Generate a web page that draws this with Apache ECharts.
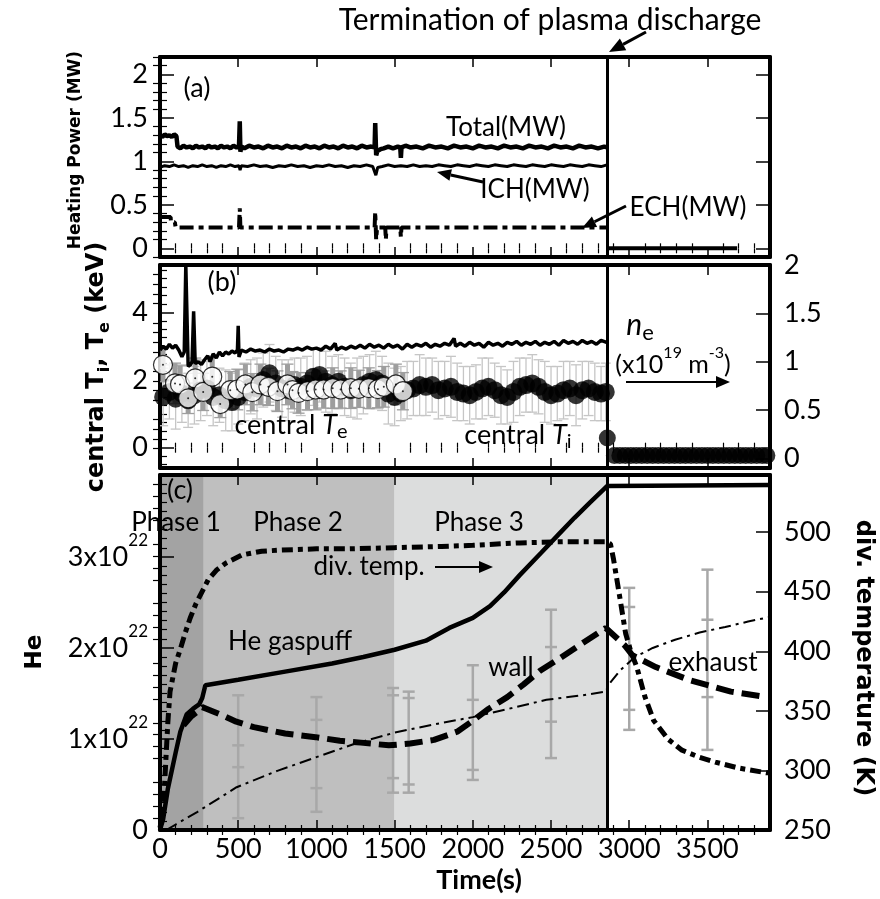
<!DOCTYPE html>
<html>
<head>
<meta charset="utf-8">
<script src="https://cdn.jsdelivr.net/npm/echarts@6/dist/echarts.min.js"></script>
<style>
html,body{margin:0;padding:0;background:#fff;}
#chart{width:880px;height:899px;}
</style>
</head>
<body>
<div id="chart"></div>
<script>
// ================= DATA =================
const dischargeEnd = 2860;
const xTickLabels = [0, 500, 1000, 1500, 2000, 2500, 3000, 3500];
const powerTickLabels = [0, 0.5, 1, 1.5, 2];
const tempTickLabels = [0, 2, 4];
const neTickLabels = [0, 0.5, 1, 1.5, 2];
const heTickLabels = [0, 1, 2, 3];
const divTickLabels = [250, 300, 350, 400, 450, 500];

// (a) heating power (MW)
const totalPower = [[0,1.3],[15,1.28],[30,1.31],[45,1.29],[60,1.3],[75,1.28],[90,1.31],[105,1.29],[112,1.17],[130,1.15],[150,1.18],[170,1.16],[190,1.17],[210,1.15],[230,1.18],[250,1.16],[270,1.17],[290,1.15],[310,1.18],[330,1.16],[350,1.17],[370,1.15],[390,1.18],[410,1.16],[430,1.17],[450,1.15],[470,1.18],[490,1.16],[505,1.17],[510,1.46],[514,1.11],[520,1.17],[540,1.15],[570,1.18],[600,1.16],[630,1.17],[660,1.15],[690,1.18],[720,1.16],[750,1.17],[780,1.15],[810,1.18],[840,1.16],[870,1.17],[900,1.15],[930,1.18],[960,1.16],[990,1.17],[1020,1.15],[1050,1.18],[1080,1.16],[1110,1.17],[1140,1.15],[1170,1.18],[1200,1.16],[1230,1.17],[1260,1.15],[1290,1.18],[1320,1.16],[1350,1.17],[1372,1.16],[1376,1.44],[1382,1.07],[1390,1.12],[1410,1.14],[1430,1.15],[1460,1.17],[1490,1.15],[1520,1.17],[1536,1.16],[1540,1.04],[1544,1.16],[1570,1.18],[1600,1.16],[1640,1.17],[1680,1.15],[1720,1.18],[1760,1.16],[1800,1.17],[1840,1.15],[1880,1.18],[1920,1.16],[1960,1.17],[2000,1.15],[2040,1.18],[2080,1.16],[2120,1.17],[2160,1.15],[2200,1.18],[2240,1.16],[2280,1.17],[2320,1.15],[2360,1.18],[2400,1.16],[2440,1.17],[2480,1.15],[2520,1.18],[2560,1.16],[2600,1.17],[2640,1.15],[2680,1.18],[2720,1.16],[2760,1.17],[2800,1.15],[2840,1.17],[2858,1.16]];
const ichPower = [[0,0.93],[30,0.95],[60,0.94],[90,0.96],[120,0.94],[150,0.95],[180,0.93],[210,0.95],[240,0.94],[270,0.96],[300,0.94],[330,0.95],[360,0.93],[390,0.95],[420,0.94],[450,0.96],[480,0.94],[505,0.95],[512,0.9],[520,0.95],[560,0.94],[600,0.96],[640,0.94],[680,0.95],[720,0.93],[760,0.95],[800,0.94],[840,0.96],[880,0.94],[920,0.95],[960,0.93],[1000,0.95],[1040,0.94],[1080,0.96],[1120,0.94],[1160,0.95],[1200,0.93],[1240,0.95],[1280,0.94],[1320,0.96],[1360,0.94],[1372,0.95],[1380,0.84],[1392,0.93],[1420,0.94],[1460,0.96],[1500,0.94],[1540,0.95],[1580,0.94],[1620,0.96],[1660,0.94],[1700,0.95],[1740,0.94],[1780,0.96],[1820,0.95],[1860,0.94],[1900,0.96],[1940,0.95],[1980,0.94],[2020,0.96],[2060,0.95],[2100,0.94],[2140,0.96],[2180,0.95],[2220,0.94],[2260,0.96],[2300,0.95],[2340,0.94],[2380,0.96],[2420,0.95],[2460,0.94],[2500,0.96],[2540,0.95],[2580,0.94],[2620,0.96],[2660,0.95],[2700,0.94],[2740,0.96],[2780,0.95],[2820,0.94],[2858,0.96]];
const echPower = [[0,0.36],[68,0.36],[70,0.3],[95,0.3],[100,0.24],[505,0.24],[510,0.46],[514,0.24],[1372,0.24],[1376,0.42],[1382,0.1],[1388,0.24],[1440,0.24],[1444,0.1],[1448,0.24],[1536,0.24],[1540,0.13],[1544,0.24],[2858,0.24]];
const powerAfter = [[2862,0],[3690,0]];

// (b) ne (x1e19 m^-3, right axis)
const neLine = [[0,1.12],[20,1.16],[40,1.13],[60,1.18],[80,1.14],[100,1.17],[120,1.12],[140,1.05],[155,1.1],[165,2.0],[172,2.0],[180,0.95],[195,0.97],[205,1.0],[215,1.52],[225,0.98],[245,1.0],[265,0.97],[285,1.02],[305,1.06],[320,1.0],[340,1.08],[360,1.04],[380,1.1],[400,1.06],[420,1.1],[440,1.08],[460,1.11],[480,1.09],[495,1.12],[500,1.37],[505,1.05],[520,1.12],[550,1.1],[580,1.13],[610,1.11],[640,1.12],[670,1.1],[700,1.13],[730,1.11],[760,1.12],[790,1.1],[820,1.13],[850,1.12],[880,1.14],[910,1.12],[940,1.15],[970,1.13],[1000,1.14],[1030,1.12],[1060,1.16],[1090,1.13],[1120,1.19],[1130,1.12],[1160,1.15],[1190,1.13],[1220,1.16],[1250,1.14],[1280,1.17],[1310,1.14],[1340,1.18],[1370,1.15],[1400,1.17],[1430,1.14],[1460,1.18],[1490,1.15],[1520,1.17],[1550,1.13],[1580,1.18],[1610,1.15],[1640,1.18],[1670,1.16],[1700,1.19],[1730,1.15],[1760,1.18],[1790,1.16],[1820,1.19],[1850,1.17],[1880,1.24],[1890,1.16],[1920,1.19],[1950,1.16],[1980,1.2],[2010,1.17],[2040,1.19],[2070,1.15],[2100,1.2],[2130,1.17],[2160,1.19],[2190,1.16],[2220,1.2],[2250,1.18],[2280,1.21],[2310,1.17],[2340,1.2],[2370,1.18],[2400,1.21],[2430,1.17],[2460,1.2],[2490,1.18],[2520,1.21],[2550,1.17],[2580,1.22],[2610,1.19],[2640,1.21],[2670,1.18],[2700,1.22],[2730,1.19],[2760,1.21],[2790,1.18],[2820,1.22],[2855,1.2]];
const neAfter = [[2860,0.21],[2905,0.03],[2940,0.03],[2975,0.03],[3010,0.03],[3045,0.03],[3080,0.03],[3115,0.03],[3150,0.03],[3185,0.03],[3220,0.03],[3255,0.03],[3290,0.03],[3325,0.03],[3360,0.03],[3395,0.03],[3430,0.03],[3465,0.03],[3500,0.03],[3535,0.03],[3570,0.03],[3605,0.03],[3640,0.03],[3675,0.03],[3710,0.03],[3745,0.03],[3780,0.03],[3815,0.03],[3850,0.03],[3880,0.03]];

// (b) central Ti (keV) with error half-widths
const tiData = [[20,1.5],[60,1.65],[100,1.45],[140,1.6],[180,1.4],[220,1.55],[260,1.7],[300,1.75],[340,1.5],[380,1.55],[420,1.4],[460,1.35],[500,1.5],[540,1.65],[580,1.8],[620,1.75],[660,2.0],[700,2.2],[740,1.9],[780,1.75],[820,1.7],[860,1.85],[900,1.8],[940,1.9],[980,2.1],[1020,2.15],[1060,1.95],[1100,1.85],[1140,1.95],[1180,1.8],[1220,1.7],[1260,1.75],[1300,1.85],[1340,1.95],[1380,2.0],[1420,1.9],[1460,1.6],[1500,1.5],[1540,1.6],[1580,1.7],[1620,1.75],[1660,1.85],[1700,1.8],[1740,1.85],[1780,1.7],[1820,1.75],[1860,1.8],[1900,1.65],[1940,1.6],[1980,1.55],[2020,1.65],[2060,1.75],[2100,1.8],[2140,1.7],[2180,1.55],[2220,1.5],[2260,1.65],[2300,1.8],[2340,1.85],[2380,1.9],[2420,1.8],[2460,1.65],[2500,1.55],[2540,1.6],[2580,1.7],[2620,1.75],[2660,1.55],[2700,1.7],[2740,1.75],[2780,1.65],[2820,1.6],[2850,1.65]];
const tiErr = [0.85,0.8,0.9,0.85,0.8,0.85,0.9,0.8,0.85,0.8,0.9,0.85,0.8,0.85,0.8,0.9,0.8,0.85,0.8,0.85,0.9,0.8,0.85,0.8,0.85,0.8,0.9,0.85,0.8,0.85,0.8,0.9,0.85,0.8,0.85,0.8,0.9,0.85,0.8,0.85,0.8,0.9,0.85,0.8,0.85,0.8,0.9,0.85,0.8,0.85,0.8,0.9,0.85,0.8,0.85,0.8,0.9,0.85,0.8,0.85,0.8,0.9,0.85,0.8,0.85,0.8,0.9,0.85,0.8,0.85,0.8,0.85];

// (b) central Te (keV) with error half-widths
const teData = [[19,2.45],[96,1.9],[128,1.87],[180,1.46],[225,2.05],[276,1.65],[334,2.1],[385,1.29],[449,1.7],[494,1.72],[546,1.87],[590,1.64],[642,1.87],[693,1.8],[751,1.67],[815,1.87],[847,1.7],[886,1.62],[943,1.67],[995,1.72],[1046,1.72],[1104,1.76],[1155,1.72],[1220,1.76],[1271,1.74],[1335,1.76],[1393,1.73],[1431,1.8],[1508,1.87],[1553,1.67]];
const teErr = [0.5,0.6,0.55,0.45,0.6,0.55,0.6,0.4,0.55,0.6,0.6,0.55,0.6,0.55,0.6,0.6,0.55,0.6,0.55,0.6,0.55,0.6,0.55,0.6,0.55,0.6,0.55,0.6,0.6,0.55];

// (c) He inventory (x1e22) and divertor temperature (K)
const gasPuff = [[0,0],[20,0.12],[50,0.45],[100,0.85],[130,1.08],[170,1.27],[210,1.33],[250,1.38],[270,1.45],[290,1.59],[500,1.65],[800,1.74],[1100,1.83],[1300,1.9],[1500,1.98],[1700,2.08],[1850,2.22],[2000,2.33],[2110,2.46],[2200,2.61],[2300,2.8],[2434,3.04],[2550,3.25],[2650,3.43],[2750,3.6],[2860,3.78],[2870,3.79],[3900,3.79]];
const wallHe = [[150,1.15],[200,1.25],[240,1.3],[270,1.35],[300,1.33],[400,1.26],[488,1.19],[600,1.13],[800,1.06],[995,1.02],[1150,0.98],[1284,0.96],[1463,0.93],[1600,0.95],[1752,0.99],[1900,1.08],[1983,1.18],[2100,1.33],[2220,1.46],[2325,1.6],[2430,1.75],[2541,1.87],[2700,2.05],[2850,2.22],[2970,2.03],[3020,1.92],[3170,1.79],[3380,1.65],[3650,1.52],[3880,1.46]];
const exhaustHe = [[40,0.0],[100,0.06],[240,0.2],[490,0.47],[750,0.65],[1000,0.8],[1250,0.95],[1500,1.07],[1750,1.16],[2000,1.24],[2250,1.34],[2470,1.43],[2700,1.48],[2850,1.52],[2870,1.6],[2940,1.75],[3036,1.9],[3150,2.0],[3293,2.09],[3450,2.17],[3614,2.23],[3760,2.29],[3900,2.34]];
const divTemp = [[0,252],[15,262],[30,290],[50,340],[64,366],[100,390],[128,401],[160,415],[193,428],[230,440],[257,447],[308,460],[360,468],[420,474],[526,481],[650,484],[776,485],[1000,486],[1200,486],[1497,487],[1800,488],[2000,489],[2300,491],[2580,492],[2850,492],[2880,490],[2900,477],[2940,445],[2977,415],[3010,400],[3048,387],[3100,362],[3156,342],[3250,326],[3337,317],[3450,311],[3550,307],[3700,302],[3877,298],[3900,298]];
const phaseRanges = [[0,280],[280,1500],[1500,2860]];
const phaseNames = ['Phase 1','Phase 2','Phase 3'];
const errTimes = [500,1000,1490,1590,2000,2500,3000,3500];
const errMarks = [[1.48,0.93,0.69,0.13],[1.46,1.21,0.46,0.2],[1.56,1.48,0.57,0.41],[1.52,1.45,0.5,0.41],[1.81,1.43,0.66,0.55],[2.42,2.01,1.19,0.79],[2.66,2.45,1.32,1.1],[2.86,2.31,1.46,0.88]];

// ================= LAYOUT / STYLE =================
const FONT = 'Lato';
const BOLD = 'DejaVu Sans';
const grids = [
  {left:160, right:110, top:57, height:200},
  {left:160, right:110, top:265, height:203},
  {left:160, right:110, top:475, height:355}
];
function steps(a, b, s, skip) {
  const out = [];
  const n = Math.round((b - a) / s);
  for (let i = 0; i <= n; i++) {
    const v = +(a + i * s).toFixed(4);
    if (!skip.some(k => Math.abs(k - v) < 1e-9)) out.push(v);
  }
  return out;
}
const xMinor = steps(0, 3800, 100, xTickLabels);

function xAxesFor(g, showLabels) {
  const base = {type:'value', gridIndex:g, min:0, max:3900, splitLine:{show:false}};
  const line = {show:true, onZero:false, lineStyle:{color:'#000', width:4}};
  const lbl = showLabels ? {show:true, customValues:xTickLabels, formatter: v => String(v), color:'#000', fontFamily:FONT, fontSize:27, margin:6} : {show:false};
  return [
    Object.assign({}, base, {position:'bottom', axisLine:line, axisTick:{show:true, inside:true, length:10, customValues:xTickLabels, lineStyle:{color:'#000', width:1.5}}, axisLabel:lbl}),
    Object.assign({}, base, {position:'bottom', axisLine:{show:false}, axisTick:{show:true, inside:true, length:5, customValues:xMinor, lineStyle:{color:'#000', width:1.2}}, axisLabel:{show:false}}),
    Object.assign({}, base, {position:'top', axisLine:line, axisTick:{show:true, inside:true, length:10, customValues:xTickLabels, lineStyle:{color:'#000', width:1.5}}, axisLabel:{show:false}}),
    Object.assign({}, base, {position:'top', axisLine:{show:false}, axisTick:{show:true, inside:true, length:5, customValues:xMinor, lineStyle:{color:'#000', width:1.2}}, axisLabel:{show:false}})
  ];
}
function yAxesFor(g, pos, min, max, labels, minor, label) {
  const base = {type:'value', gridIndex:g, position:pos, min:min, max:max, splitLine:{show:false}};
  return [
    Object.assign({}, base, {axisLine:{show:true, onZero:false, lineStyle:{color:'#000', width:4}},
      axisTick:{show:true, inside:true, length:14, customValues:labels, lineStyle:{color:'#000', width:1.5}},
      axisLabel: label ? Object.assign({show:true, customValues:labels, formatter: v => String(v), color:'#000', fontFamily:FONT, fontSize:27, margin:12}, label) : {show:false}}),
    Object.assign({}, base, {axisLine:{show:false}, axisTick:{show:true, inside:true, length:7, customValues:minor, lineStyle:{color:'#000', width:1.2}}, axisLabel:{show:false}})
  ];
}
const xAxis = [].concat(xAxesFor(0,false), xAxesFor(1,false), xAxesFor(2,true));
const yAxis = [].concat(
  yAxesFor(0,'left',-0.1,2.2,powerTickLabels, steps(-0.1,2.2,0.1,powerTickLabels), {}),
  yAxesFor(0,'right',-0.1,2.2,powerTickLabels, steps(-0.1,2.2,0.1,powerTickLabels), null),
  yAxesFor(1,'left',-0.6,5.4,tempTickLabels, steps(-0.5,5.25,0.25,tempTickLabels), {}),
  yAxesFor(1,'right',-0.1,2,neTickLabels, steps(0,2,0.1,neTickLabels), {margin:14}),
  yAxesFor(2,'left',0,3.9,heTickLabels, steps(0,3.9,0.1,heTickLabels), {
    formatter: v => v === 0 ? '{b|0}' : '{b|' + v + 'x10}{s|22}',
    rich:{b:{fontFamily:FONT, fontSize:27, lineHeight:50, color:'#000'}, s:{fontFamily:FONT, fontSize:17, lineHeight:17, verticalAlign:'top', color:'#000'}}
  }),
  yAxesFor(2,'right',250,548,divTickLabels, steps(250,540,10,divTickLabels), {margin:14})
);
// yAxis indices: g0 left 0, right 2; g1 left 4, right 6; g2 left 8, right 10

function errBarRender(color, width, cap) {
  return function (params, api) {
    const x = api.value(0);
    const lo = api.coord([x, api.value(1)]);
    const hi = api.coord([x, api.value(2)]);
    const st = {stroke:color, lineWidth:width};
    const cs = {stroke:color, lineWidth:1.3};
    return {type:'group', children:[
      {type:'line', shape:{x1:lo[0], y1:lo[1], x2:hi[0], y2:hi[1]}, style:st},
      {type:'line', shape:{x1:lo[0]-cap, y1:lo[1], x2:lo[0]+cap, y2:lo[1]}, style:cs},
      {type:'line', shape:{x1:hi[0]-cap, y1:hi[1], x2:hi[0]+cap, y2:hi[1]}, style:cs}
    ]};
  };
}
const vline = {symbol:'none', silent:true, label:{show:false}, lineStyle:{color:'#000', width:3, type:'solid'}, data:[{xAxis:dischargeEnd}]};
const phaseColors = ['#a3a3a3','#bfbfbf','#dcdddd'];

const series = [
  // ---- (a)
  {type:'line', name:'Total', xAxisIndex:0, yAxisIndex:0, data:totalPower, showSymbol:false, lineStyle:{color:'#000', width:4.5}, z:5, markLine:vline},
  {type:'line', name:'ICH', xAxisIndex:0, yAxisIndex:0, data:ichPower, showSymbol:false, lineStyle:{color:'#000', width:3}, z:5},
  {type:'line', name:'ECH', xAxisIndex:0, yAxisIndex:0, data:echPower, showSymbol:false, lineStyle:{color:'#000', width:4, type:[14,5,5,5]}, z:5},
  {type:'line', name:'after', xAxisIndex:0, yAxisIndex:0, data:powerAfter, showSymbol:false, lineStyle:{color:'#000', width:4}, z:5},
  // ---- (b)
  {type:'custom', name:'Ti err', xAxisIndex:4, yAxisIndex:4, clip:true, z:2,
    renderItem: errBarRender('#c6c6c6', 1.3, 5),
    data: tiData.map((d,i) => [d[0], d[1]-tiErr[i], d[1]+tiErr[i]])},
  {type:'custom', name:'Te err', xAxisIndex:4, yAxisIndex:4, clip:true, z:3,
    renderItem: errBarRender('#9e9e9e', 5, 6),
    data: teData.map((d,i) => [d[0], d[1]-teErr[i], d[1]+teErr[i]])},
  {type:'scatter', name:'Ti', xAxisIndex:4, yAxisIndex:4, data:tiData, symbol:'circle', symbolSize:18, itemStyle:{color:'#000'}, z:4},
  {type:'scatter', name:'Te', xAxisIndex:4, yAxisIndex:4, data:teData, symbol:'circle', symbolSize:19, itemStyle:{color:'#fff', borderColor:'#000', borderWidth:1.2}, z:5},
  {type:'scatter', name:'Te dot', xAxisIndex:4, yAxisIndex:4, data:teData, symbol:'circle', symbolSize:2, itemStyle:{color:'#000'}, z:6},
  {type:'line', name:'ne', xAxisIndex:4, yAxisIndex:6, data:neLine, showSymbol:false, lineStyle:{color:'#000', width:3.5}, z:7, markLine:vline},
  {type:'scatter', name:'ne after', xAxisIndex:4, yAxisIndex:6, data:neAfter, symbol:'circle', symbolSize:17, itemStyle:{color:'#000'}, z:7},
  // ---- (c)
  {type:'custom', name:'phases', xAxisIndex:8, yAxisIndex:8, z:0, silent:true,
    renderItem: function (params, api) {
      const p0 = api.coord([api.value(0), 3.9]);
      const p1 = api.coord([api.value(1), 0]);
      return {type:'rect', shape:{x:p0[0], y:p0[1], width:p1[0]-p0[0], height:p1[1]-p0[1]}, style:{fill:phaseColors[params.dataIndex]}};
    },
    data: phaseRanges},
  {type:'custom', name:'err c', xAxisIndex:8, yAxisIndex:8, z:2,
    renderItem: function (params, api) {
      const x = api.value(0);
      const pts = [1,2,3,4].map(k => api.coord([x, api.value(k)]));
      const ys = pts.map(p => p[1]);
      const st = {stroke:'#a8a8a8', lineWidth:2.5};
      const ch = [{type:'line', shape:{x1:pts[0][0], y1:Math.min.apply(null,ys), x2:pts[0][0], y2:Math.max.apply(null,ys)}, style:st}];
      pts.forEach(p => ch.push({type:'line', shape:{x1:p[0]-6, y1:p[1], x2:p[0]+6, y2:p[1]}, style:st}));
      return {type:'group', children:ch};
    },
    data: errTimes.map((t,i) => [t].concat(errMarks[i]))},
  {type:'line', name:'exhaust', xAxisIndex:8, yAxisIndex:8, data:exhaustHe, showSymbol:false, lineStyle:{color:'#000', width:2, type:[12,5,3,5]}, z:4},
  {type:'line', name:'wall', xAxisIndex:8, yAxisIndex:8, data:wallHe, showSymbol:false, lineStyle:{color:'#000', width:6, type:[18,8]}, z:5},
  {type:'line', name:'div temp', xAxisIndex:8, yAxisIndex:10, data:divTemp, showSymbol:false, lineStyle:{color:'#000', width:5, type:[11,5,5,5]}, z:5},
  {type:'line', name:'gaspuff', xAxisIndex:8, yAxisIndex:8, data:gasPuff, showSymbol:false, lineStyle:{color:'#000', width:4.5}, z:6, markLine:vline}
];

// ================= ANNOTATIONS =================
function txt(x, y, text, size, extra) {
  return {type:'text', x:x, y:y, z:100, style:Object.assign({text:text, fontFamily:FONT, fontSize:size, fill:'#000', align:'center', verticalAlign:'middle'}, extra || {})};
}
function arrow(x1, y1, x2, y2, w, hl) {
  const a = Math.atan2(y2 - y1, x2 - x1);
  const bx = x2 - hl * Math.cos(a), by = y2 - hl * Math.sin(a);
  const hw = hl * 0.42;
  const px = -Math.sin(a) * hw, py = Math.cos(a) * hw;
  return [
    {type:'line', z:100, shape:{x1:x1, y1:y1, x2:bx, y2:by}, style:{stroke:'#000', lineWidth:w}},
    {type:'polygon', z:100, shape:{points:[[x2,y2],[bx+px,by+py],[bx-px,by-py]]}, style:{fill:'#000'}}
  ];
}
const boldRich = {
  n:{fontFamily:BOLD, fontWeight:'bold', fontSize:24, lineHeight:32, fill:'#000'},
  sb:{fontFamily:BOLD, fontWeight:'bold', fontSize:16, lineHeight:16, verticalAlign:'bottom', fill:'#000'}
};
const subRich = {n:{fontFamily:FONT, fontSize:27, lineHeight:34}, i:{fontFamily:FONT, fontSize:27, fontStyle:'italic', lineHeight:34}, sb:{fontFamily:FONT, fontSize:20, lineHeight:20, verticalAlign:'bottom'}};
const graphic = [].concat(
  [txt(550, 20, 'Termination of plasma discharge', 30)],
  arrow(646, 32, 609, 52, 3, 16),
  [txt(197, 88, '(a)', 27), txt(506, 128, 'Total(MW)', 26), txt(535, 190, 'ICH(MW)', 26), txt(688, 208, 'ECH(MW)', 26)],
  arrow(483, 182, 437, 172, 3, 14),
  arrow(626, 206, 582, 228, 3, 14),
  [txt(222, 282, '(b)', 27),
   {type:'text', x:291, y:425, z:100, style:{text:'{n|central }{i|T}{sb|e}', align:'center', verticalAlign:'middle', rich:subRich}},
   {type:'text', x:518, y:435, z:100, style:{text:'{n|central }{i|T}{sb|i}', align:'center', verticalAlign:'middle', rich:subRich}},
   {type:'text', x:640, y:325, z:100, style:{text:'{i|n}{sb|e}', align:'center', verticalAlign:'middle',
     rich:{i:{fontFamily:FONT, fontSize:30, fontStyle:'italic', lineHeight:38}, sb:{fontFamily:FONT, fontSize:22, lineHeight:22, verticalAlign:'bottom'}}}},
   {type:'text', x:673, y:365, z:100, style:{text:'{n|(x10}{s|19}{n| m}{s|-3}{n|)}', align:'center', verticalAlign:'middle',
     rich:{n:{fontFamily:FONT, fontSize:25, lineHeight:40}, s:{fontFamily:FONT, fontSize:16, lineHeight:16, verticalAlign:'top'}}}}],
  arrow(626, 382, 730, 382, 2, 14),
  [txt(180, 490, '(c)', 27), txt(176, 523, phaseNames[0], 26), txt(298, 523, phaseNames[1], 26), txt(479, 523, phaseNames[2], 26),
   txt(369, 567, 'div. temp.', 26), txt(290, 642, 'He gaspuff', 26), txt(511, 668, 'wall', 26), txt(713, 663, 'exhaust', 26)],
  arrow(435, 567, 493, 567, 2, 14),
  [{type:'text', x:76, y:150, rotation:Math.PI/2, z:100, style:{text:'Heating Power (MW)', fontFamily:BOLD, fontWeight:'bold', fontSize:17, fill:'#000', align:'center', verticalAlign:'middle'}},
   {type:'text', x:97, y:367, rotation:Math.PI/2, z:100, style:{text:'{n|central T}{sb|i}{n|, T}{sb|e}{n| (keV)}', align:'center', verticalAlign:'middle', rich:boldRich}},
   {type:'text', x:35, y:652, rotation:Math.PI/2, z:100, style:{text:'He', fontFamily:BOLD, fontWeight:'bold', fontSize:23, fill:'#000', align:'center', verticalAlign:'middle'}},
   {type:'text', x:863, y:658, rotation:-Math.PI/2, z:100, style:{text:'div. temperature (K)', fontFamily:BOLD, fontWeight:'bold', fontSize:24, fill:'#000', align:'center', verticalAlign:'middle'}},
   {type:'text', x:479, y:880, z:100, style:{text:'Time(s)', fontFamily:FONT, fontWeight:'bold', fontSize:27, fill:'#000', align:'center', verticalAlign:'middle'}}]
);

const chart = echarts.init(document.getElementById('chart'), null, {renderer:'canvas'});
chart.setOption({
  animation:false,
  backgroundColor:'#fff',
  grid: grids,
  xAxis: xAxis,
  yAxis: yAxis,
  series: series,
  graphic: graphic
});
</script>
</body>
</html>
